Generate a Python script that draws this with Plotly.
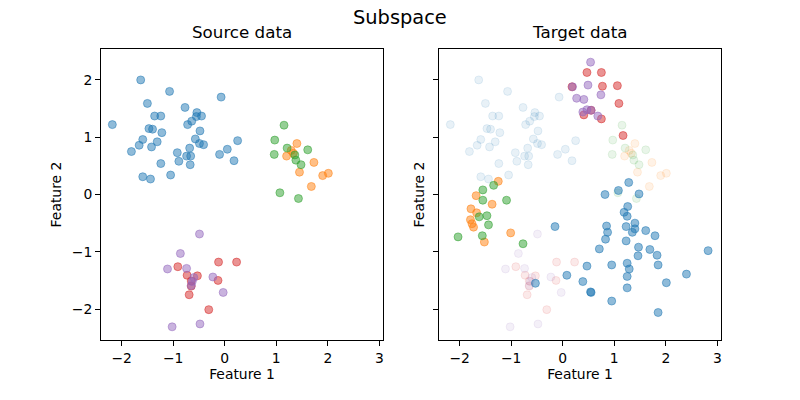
import plotly.graph_objects as go

# ---- Source data (per class) ----
src_blue_x = [-1.63, -1.07, -1.50, -0.07, -0.77, -1.36, -1.24, -0.54, -0.45, -0.55, -0.64, -0.72, -2.18,
              -1.47, -1.40, -1.22, -0.48, -1.59, -1.31, -1.66, -0.57, -0.49, -0.41, 0.25, -1.42, -0.68,
              -1.81, -0.92, 0.05, -0.74, -0.66, -0.10, -0.89, -1.24, -0.67, 0.18, -1.59, -1.44, -1.05]
src_blue_y = [2.00, 1.80, 1.59, 1.70, 1.52, 1.37, 1.37, 1.43, 1.37, 1.36, 1.28, 1.22, 1.22,
              1.15, 1.14, 1.08, 1.11, 0.96, 0.92, 0.86, 0.97, 0.89, 0.87, 0.94, 0.83, 0.81,
              0.75, 0.73, 0.79, 0.67, 0.67, 0.70, 0.58, 0.54, 0.52, 0.59, 0.31, 0.27, 0.34]
src_orange_x = [1.40, 1.29, 1.20, 1.33, 1.73, 1.45, 1.90, 2.01, 1.68]
src_orange_y = [0.89, 0.77, 0.67, 0.72, 0.56, 0.39, 0.33, 0.37, 0.14]
src_green_x = [1.15, 0.97, 1.21, 0.96, 1.61, 1.36, 1.38, 1.48, 1.07, 1.43]
src_green_y = [1.21, 0.95, 0.81, 0.70, 0.78, 0.69, 0.60, 0.52, 0.03, -0.07]
src_red_x = [-0.91, -0.12, 0.23, -0.73, -0.53, -0.13, -0.65, -0.65, -0.69, -0.31]
src_red_y = [-1.26, -1.18, -1.18, -1.41, -1.42, -1.50, -1.51, -1.60, -1.75, -2.01]
src_purple_x = [-0.49, -0.86, -1.11, -0.74, -0.23, -0.60, -0.63, -0.65, -0.03, -1.02, -0.48]
src_purple_y = [-0.69, -1.03, -1.30, -1.29, -1.44, -1.45, -1.52, -1.59, -1.71, -2.31, -2.26]

# ---- Target data (per class) ----
tgt_blue_x = [1.28, 1.08, 0.82, 1.48, 1.26, 1.19, 1.25, 0.85, 0.87, 0.83, 1.23, 1.40, 1.40, 1.35,
              1.61, 1.79, 1.23, 1.47, 1.46, 1.69, 1.83, 0.71, 2.82, 1.25, 1.29, 1.85, 0.95, 0.47,
              0.08, 1.25, 2.40, 0.39, 2.01, 1.25, 0.54, 0.55, 0.95, 1.85, -0.15, -0.53]
tgt_blue_y = [0.21, 0.07, 0.00, 0.01, -0.21, -0.31, -0.38, -0.55, -0.66, -0.78, -0.56, -0.50, -0.60, -0.66,
              -0.63, -0.72, -0.81, -0.92, -1.07, -0.96, -1.06, -0.95, -0.98, -1.20, -1.30, -1.23, -1.23, -1.25,
              -1.41, -1.43, -1.39, -1.52, -1.54, -1.63, -1.70, -1.71, -1.86, -2.06, -0.56, -1.55]
tgt_orange_x = [-1.25, -1.68, -1.37, -1.78, -1.67, -1.79, -1.76, -1.73, -1.01, -1.52]
tgt_orange_y = [0.23, -0.02, -0.17, -0.25, -0.32, -0.44, -0.51, -0.57, -0.67, -0.83]
tgt_green_x = [-1.34, -1.55, -1.55, -1.09, -1.47, -1.62, -1.44, -2.03, -1.56, -0.77]
tgt_green_y = [0.16, 0.08, -0.10, -0.10, -0.37, -0.39, -0.53, -0.74, -0.72, -0.86]
tgt_red_x = [0.47, 0.75, 0.18, 0.77, 1.06, 1.09, 0.41, 0.55, 0.75, 1.17]
tgt_red_y = [2.13, 2.13, 1.88, 1.89, 1.90, 1.59, 1.39, 1.47, 1.32, 1.03]
tgt_purple_x = [0.54, 0.49, 0.19, 0.74, 0.27, 0.41, 0.39, 0.47, 0.55, 0.68]
tgt_purple_y = [2.31, 1.91, 1.88, 1.74, 1.68, 1.66, 1.44, 1.48, 1.47, 1.37]

x_ticks = [-2, -1, 0, 1, 2, 3]
y_ticks = [-2, -1, 0, 1, 2]
x_tick_text = ["\u22122", "\u22121", "0", "1", "2", "3"]
y_tick_text = ["\u22122", "\u22121", "0", "1", "2"]

colors = {
    "blue": (31, 119, 180),
    "orange": (255, 127, 14),
    "green": (44, 160, 44),
    "red": (214, 39, 40),
    "purple": (148, 103, 189),
}

src = [("blue", src_blue_x, src_blue_y), ("orange", src_orange_x, src_orange_y),
       ("green", src_green_x, src_green_y), ("red", src_red_x, src_red_y),
       ("purple", src_purple_x, src_purple_y)]
tgt = [("blue", tgt_blue_x, tgt_blue_y), ("orange", tgt_orange_x, tgt_orange_y),
       ("green", tgt_green_x, tgt_green_y), ("red", tgt_red_x, tgt_red_y),
       ("purple", tgt_purple_x, tgt_purple_y)]


def rgba(c, a):
    r, g, b = colors[c]
    return f"rgba({r},{g},{b},{a})"


fig = go.Figure()

for c, xs, ys in src:
    fig.add_trace(go.Scatter(x=xs, y=ys, mode="markers", xaxis="x", yaxis="y",
                             marker=dict(size=8, color=rgba(c, 0.5), line=dict(width=1, color=rgba(c, 0.5))),
                             showlegend=False, hoverinfo="skip"))
for c, xs, ys in src:
    fig.add_trace(go.Scatter(x=xs, y=ys, mode="markers", xaxis="x2", yaxis="y2",
                             marker=dict(size=8, color=rgba(c, 0.1), line=dict(width=1, color=rgba(c, 0.1))),
                             showlegend=False, hoverinfo="skip"))
for c, xs, ys in tgt:
    fig.add_trace(go.Scatter(x=xs, y=ys, mode="markers", xaxis="x2", yaxis="y2",
                             marker=dict(size=8, color=rgba(c, 0.5), line=dict(width=1, color=rgba(c, 0.5))),
                             showlegend=False, hoverinfo="skip"))

font = "DejaVu Sans"
common_ax = dict(showgrid=False, zeroline=False, showline=True, linecolor="black", linewidth=1,
                 mirror=True, ticks="outside", ticklen=4.9, tickwidth=1, tickcolor="black",
                 automargin=False,
                 tickfont=dict(family=font, size=13.9, color="black"))

# body margin is removed via post_script, so the figure sits at (0, 0)
W, H = 800, 400
L, R, T, B = 100.7, 79.3, 49, 59.7
pw = W - L - R
left_w = 282.0
gap_start = 338.0

xr = [-2.40, 3.07]
yr = [-2.54, 2.54]

fig.update_layout(
    width=W, height=H,
    margin=dict(l=L, r=R, t=T, b=B),
    paper_bgcolor="white", plot_bgcolor="white",
    font=dict(family=font, color="black"),
    xaxis=dict(common_ax, domain=[0, left_w / pw], range=xr, tickvals=x_ticks, ticktext=x_tick_text,
               title=dict(text="Feature 1", font=dict(family=font, size=13.9), standoff=4)),
    yaxis=dict(common_ax, domain=[0, 1], range=yr, tickvals=y_ticks, ticktext=y_tick_text,
               title=dict(text="Feature 2", font=dict(family=font, size=13.9), standoff=6)),
    xaxis2=dict(common_ax, domain=[gap_start / pw, 1], range=xr, tickvals=x_ticks, ticktext=x_tick_text,
                title=dict(text="Feature 1", font=dict(family=font, size=13.9), standoff=4)),
    yaxis2=dict(common_ax, anchor="x2", domain=[0, 1], range=yr, tickvals=y_ticks, showticklabels=False,
                title=dict(text="Feature 2", font=dict(family=font, size=13.9), standoff=5)),
    annotations=[
        dict(text="Source data", xref="paper", yref="paper", x=(left_w / 2) / pw, y=1,
             xanchor="center", yanchor="bottom", yshift=5, showarrow=False,
             font=dict(family=font, size=16.7, color="black")),
        dict(text="Target data", xref="paper", yref="paper", x=(gap_start + left_w / 2) / pw, y=1,
             xanchor="center", yanchor="bottom", yshift=5, showarrow=False,
             font=dict(family=font, size=16.7, color="black")),
        dict(text="Subspace", xref="paper", yref="paper", x=(400 - L) / pw, y=1,
             xanchor="center", yanchor="bottom", yshift=18, showarrow=False,
             font=dict(family=font, size=19.4, color="black")),
    ],
)

fig.write_html("out.html", config={"displayModeBar": False},
               post_script="document.body.style.margin='0px';")
